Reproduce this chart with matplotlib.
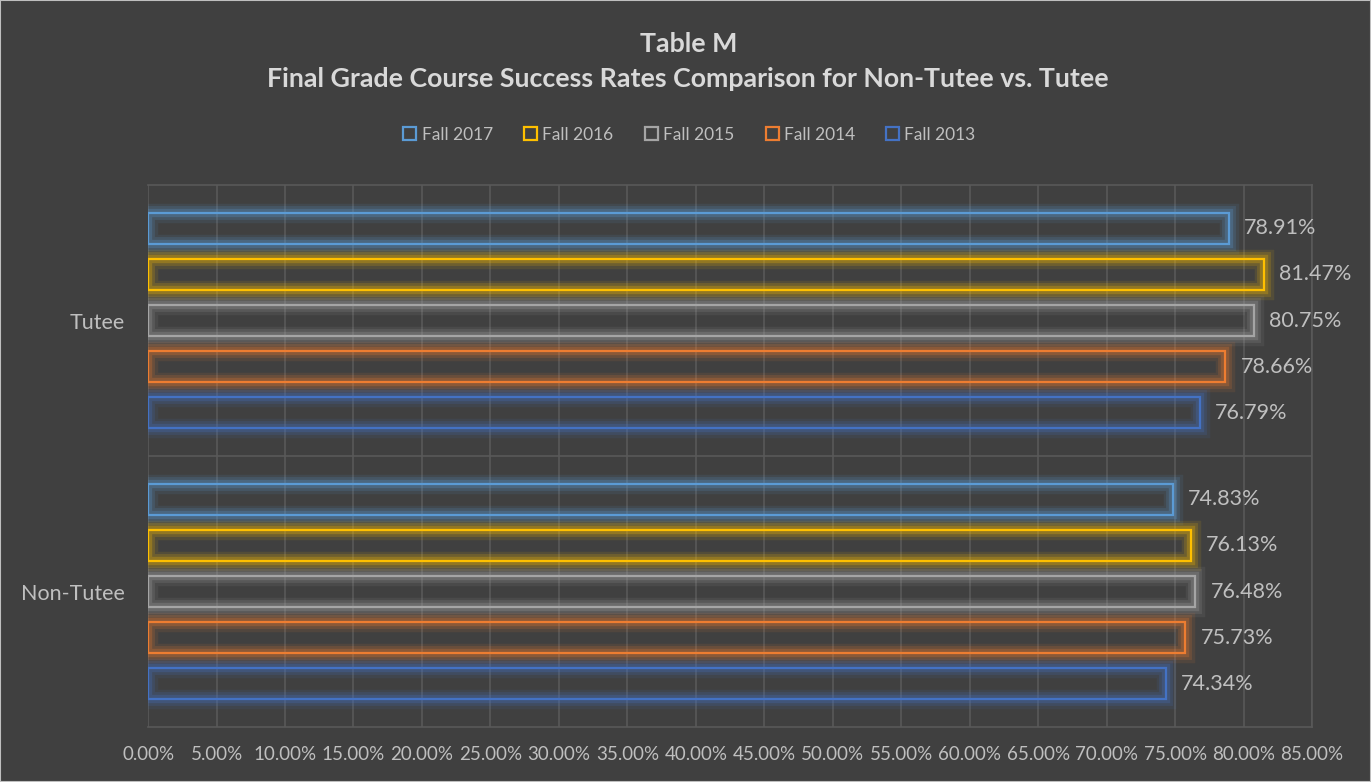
import matplotlib
matplotlib.use("Agg")
import matplotlib.pyplot as plt
import matplotlib.patheffects as pe
from matplotlib.patches import Patch, Rectangle
import numpy as np

# values (percent)
categories = ["Non-Tutee", "Tutee"]
series_names = ["Fall 2017", "Fall 2016", "Fall 2015", "Fall 2014", "Fall 2013"]
series_colors = ["#5B9BD5", "#FFC000", "#A5A5A5", "#ED7D31", "#4472C4"]
fall_2017 = [74.83, 78.91]
fall_2016 = [76.13, 81.47]
fall_2015 = [76.48, 80.75]
fall_2014 = [75.73, 78.66]
fall_2013 = [74.34, 76.79]
series_values = [fall_2017, fall_2016, fall_2015, fall_2014, fall_2013]
x_ticks = np.arange(0, 86, 5)

BG = "#404040"
GRID = "#595959"
TXT = "#BFBFBF"

plt.rcParams['font.family'] = ['Lato', 'DejaVu Sans']

fig = plt.figure(figsize=(13.71, 7.82), dpi=100, facecolor=BG)
fig.patches.append(Rectangle((0, 0), 1, 1, transform=fig.transFigure,
                             facecolor="none", edgecolor="#BFBFBF", lw=1.5, zorder=10))
ax = fig.add_axes([0.108, 0.0703, 0.849, 0.6931], facecolor=BG)

step = 0.17
height = 0.114
y = np.arange(len(categories))
for i, (name, vals, col) in enumerate(zip(series_names, series_values, series_colors)):
    offs = (2 - i) * step
    bars = ax.barh(y + offs, vals, height=height, facecolor="none", edgecolor=col,
                   linewidth=1.6, zorder=3)
    for b in bars:
        b.set_path_effects([
            pe.Stroke(linewidth=14, foreground=col, alpha=0.10),
            pe.Stroke(linewidth=10, foreground=col, alpha=0.16),
            pe.Stroke(linewidth=6, foreground=col, alpha=0.25),
            pe.Normal(),
        ])
    for yy, v in zip(y + offs, vals):
        ax.annotate(f"{v:.2f}%", (v, yy), xytext=(11, 0), textcoords="offset points",
                    va="center", ha="left", color=TXT, fontsize=15.5)

ax.set_xlim(0, 85)
ax.set_ylim(-0.5, 1.5)
ax.set_xticks(x_ticks)
ax.set_xticklabels([f"{t:.2f}%" for t in x_ticks])
ax.set_yticks(y)
ax.set_yticklabels(categories)
ax.tick_params(axis="x", length=0, pad=14, labelsize=13.5, colors=TXT)
ax.tick_params(axis="y", length=0, pad=17, labelsize=15.5, colors=TXT)
ax.grid(axis="x", color=GRID, lw=1.2, zorder=0)
ax.axhline(0.5, color=GRID, lw=1.2, zorder=0)
for s in ax.spines.values():
    s.set_color(GRID)
    s.set_linewidth(1.2)
ax.spines["left"].set_visible(False)

fig.text(0.502, 0.944, "Table M", ha="center", va="center", fontsize=19.3,
         fontweight="bold", color="#D9D9D9")
fig.text(0.502, 0.899, "Final Grade Course Success Rates Comparison for Non-Tutee vs. Tutee",
         ha="center", va="center", fontsize=19.3, fontweight="bold", color="#D9D9D9")

handles = [Patch(facecolor="none", edgecolor=c, lw=1.6, label=n)
           for n, c in zip(series_names, series_colors)]
leg = fig.legend(handles=handles, loc="center", bbox_to_anchor=(0.503, 0.828), ncol=5,
                 frameon=False, fontsize=12.5, handlelength=0.75, handleheight=0.75,
                 handletextpad=0.3, columnspacing=1.8)
for t in leg.get_texts():
    t.set_color(TXT)

fig.savefig("out.png", dpi=100, facecolor=BG)
